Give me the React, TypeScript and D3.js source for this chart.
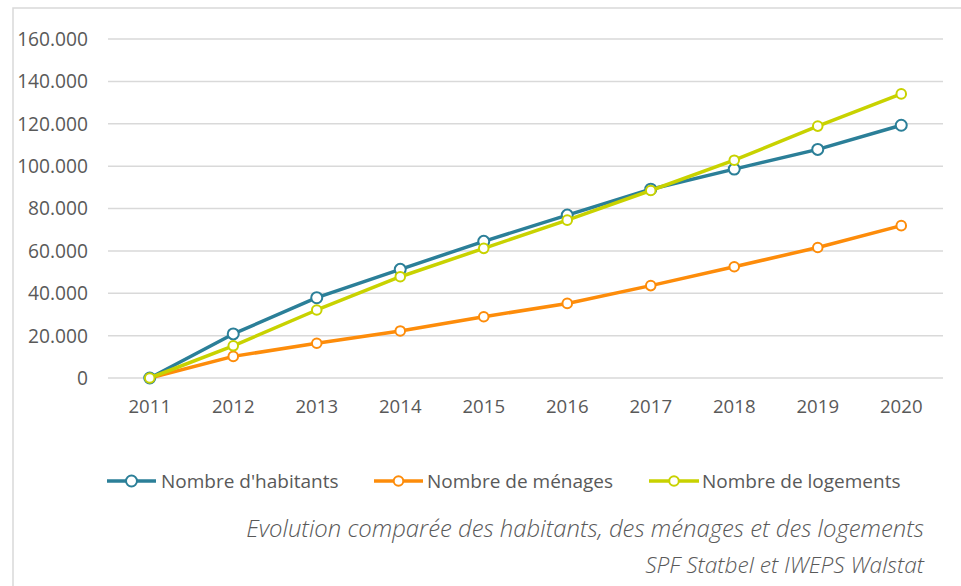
import React from "react";
import * as d3 from "d3";

const years = ["2011", "2012", "2013", "2014", "2015", "2016", "2017", "2018", "2019", "2020"];
const habitants = [0, 20800, 37900, 51300, 64500, 76900, 89100, 98600, 107900, 119300];
const menages = [0, 10200, 16400, 22200, 28900, 35200, 43600, 52500, 61600, 71900];
const logements = [0, 15200, 32100, 47800, 61200, 74500, 88500, 102800, 118900, 134100];
const yTicks = [0, 20000, 40000, 60000, 80000, 100000, 120000, 140000, 160000];

const seriesNames = ["Nombre d'habitants", "Nombre de ménages", "Nombre de logements"];
const seriesColors = ["#2b7f98", "#fd8c0a", "#c8d200"];
const seriesData = [habitants, menages, logements];

const title = "Evolution comparée des habitants, des ménages et des logements";
const source = "SPF Statbel et IWEPS Walstat";

const W = 961;
const H = 586;
const font = "'Open Sans', sans-serif";
const textColor = "#595959";

const App = () => {
  const x = d3.scalePoint().domain(years).range([108, 943]).padding(0.5);
  const y = d3.scaleLinear().domain([0, 160000]).range([378, 39]);
  const fmt = (v: number) => (v === 0 ? "0" : d3.format(",")(v).replace(/,/g, "."));

  const line = d3
    .line<number>()
    .x((_, i) => x(years[i]) as number)
    .y((d) => y(d));

  // legend positions
  const legend = [
    { x0: 107, x1: 156, tx: 161 },
    { x0: 374, x1: 423, tx: 427 },
    { x0: 649, x1: 699, tx: 702 },
  ];

  // habitants under logements, ménages first
  const order = [1, 0, 2];

  return (
    <svg
      width={W}
      height={H}
      style={{ position: "absolute", left: 0, top: 0, background: "#fff" }}
      fontFamily={font}
    >
      <rect x={13} y={8} width={W + 10} height={H + 10} fill="#fff" stroke="#d9d9d9" strokeWidth={1.5} />

      {yTicks.map((t) => (
        <g key={t}>
          <line x1={108} x2={943} y1={y(t)} y2={y(t)} stroke="#d9d9d9" strokeWidth={1.5} />
          <text x={88} y={y(t)} dy="0.36em" textAnchor="end" fontSize={19.2} fill={textColor}>
            {fmt(t)}
          </text>
        </g>
      ))}

      {years.map((yr) => (
        <text key={yr} x={x(yr)} y={413} textAnchor="middle" fontSize={18.6} fill={textColor}>
          {yr}
        </text>
      ))}

      {order.map((si) => (
        <g key={si}>
          <path d={line(seriesData[si]) || ""} fill="none" stroke={seriesColors[si]} strokeWidth={3.5} strokeLinejoin="round" />
          {seriesData[si].map((v, i) => (
            <circle
              key={i}
              cx={x(years[i])}
              cy={y(v)}
              r={si === 0 ? 5.5 : 4.8}
              fill="#fff"
              stroke={seriesColors[si]}
              strokeWidth={2}
            />
          ))}
        </g>
      ))}

      {legend.map((l, i) => (
        <g key={i}>
          <line x1={l.x0} x2={l.x1} y1={481} y2={481} stroke={seriesColors[i]} strokeWidth={3.5} />
          <circle cx={(l.x0 + l.x1) / 2} cy={481} r={i === 0 ? 5.5 : 4.8} fill="#fff" stroke={seriesColors[i]} strokeWidth={2} />
          <text x={l.tx} y={481} dy="0.36em" fontSize={19} fill={textColor}>
            {seriesNames[i]}
          </text>
        </g>
      ))}

      <text x={924} y={537} textAnchor="end" fontSize={23.9} fontStyle="italic" fontWeight={300} fill={textColor}>
        {title}
      </text>
      <text x={924} y={573} textAnchor="end" fontSize={22.7} fontStyle="italic" fontWeight={300} fill={textColor}>
        {source}
      </text>
    </svg>
  );
};

export default App;
